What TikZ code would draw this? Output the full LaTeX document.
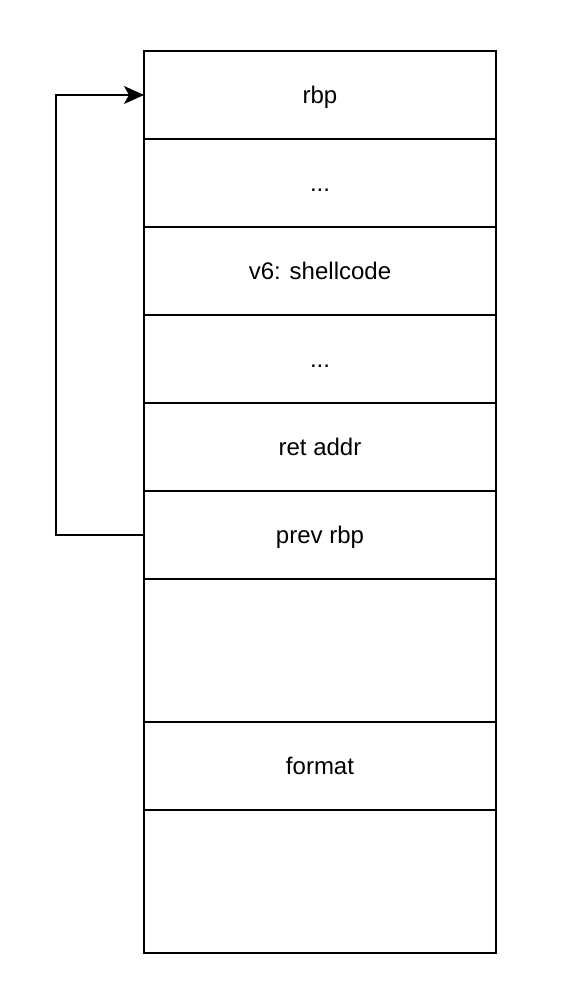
\documentclass[tikz,border=0pt]{standalone}
\usepackage{fontspec}
\setmainfont{Liberation Sans}
\usetikzlibrary{arrows.meta, positioning}

\begin{document}
\begin{tikzpicture}[x=1pt, y=1pt,
        cell/.style={draw, line width=1.5pt, outer sep=0pt, minimum width=352pt, minimum height=88pt, text height=17pt, text depth=0pt, font=\fontsize{24}{28}\selectfont},
        tallcell/.style={cell, minimum height=143pt},
    ]
        \useasboundingbox (0,0) rectangle (568,988);
        % Stack frame cells
        \node[cell] (rbp) at (320,893) {rbp};
        \node[cell] (dotsa) at (320,805) {...};
        \node[cell] (shell) at (320,717) {v6: shellcode};
        \node[cell] (dotsb) at (320,629) {...};
        \node[cell] (ret) at (320,541) {ret addr};
        \node[cell] (prev) at (320,453) {prev rbp};
        \node[tallcell] (gapa) at (320,337.5) {};
        \node[cell] (fmt) at (320,222) {format};
        \node[tallcell] (gapb) at (320,106.5) {};

        % Saved rbp link
        \draw[-{Stealth[length=20pt, width=18pt, inset=5pt]}, line width=1.5pt] (prev.west) -- ++(-88,0) |- (rbp.west);
    \end{tikzpicture}
\end{document}
